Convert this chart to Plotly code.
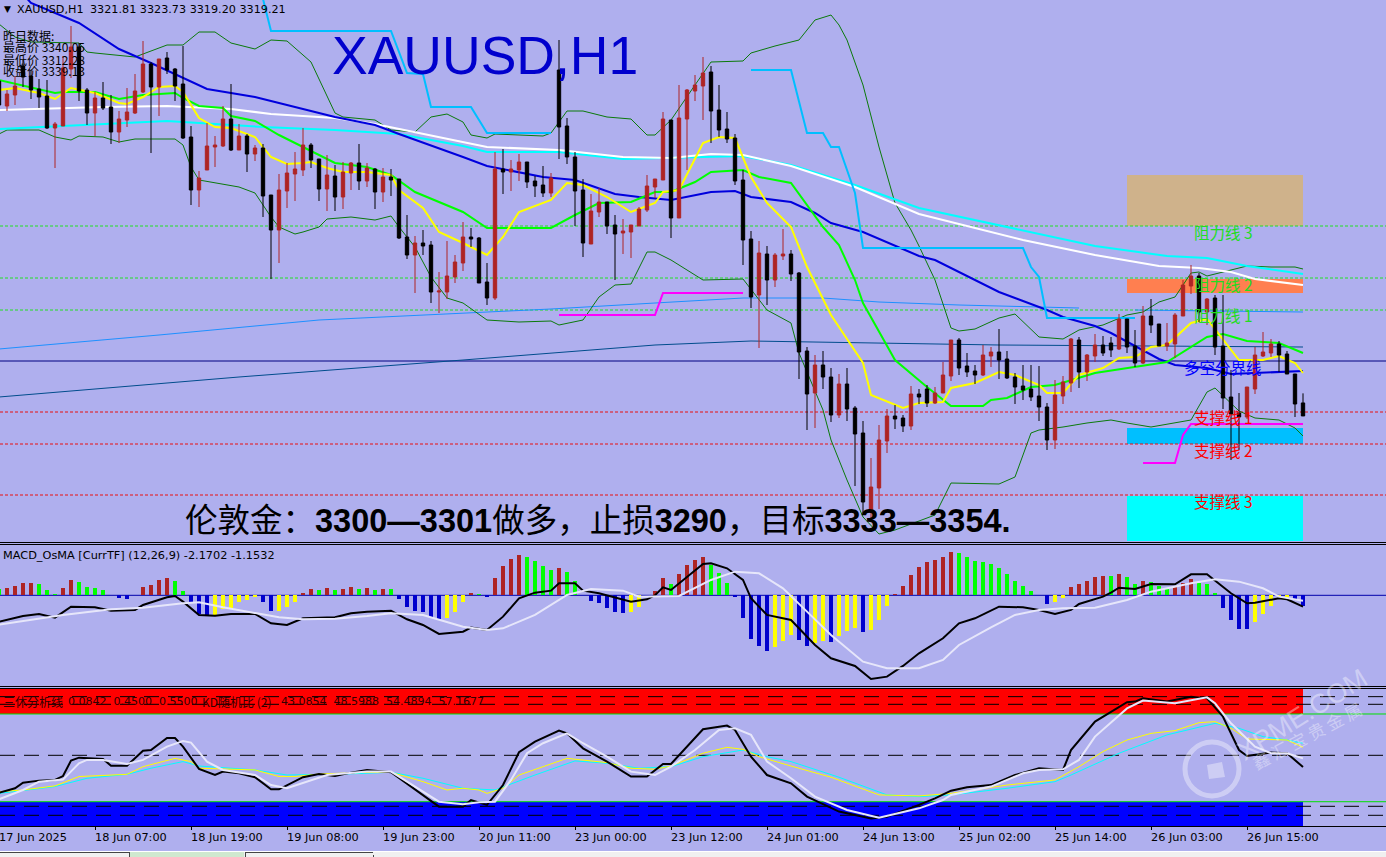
import plotly.graph_objects as go

# ---------- candles (bar 0 .. 163) ----------
candle_dir = ("DUUDDDDUUU" "DDUDDUUUUD" "UDDDDUUUUD" "UDUDDUUUUD" "DUDUUDUDUD" "DDUDDUUUUD"
              "DDUDUUDDDU" "DDDDUUDDUU" "UUUUDUUUUD" "DDDDDUDUUD" "DDUDDUDDDU" "UUDDUDDUUU"
              "DDDUUDDDDD" "DDUUUDUUDD" "UDDUDDUUUU" "DUDDDDUUUU" "DDDD")
body_top = [
3386.2,3383.6,3385.2,3389.2,3387.2,3384.6,3383.2,3377.6,3388.8,3393.0,
3393.0,3384.4,3382.8,3382.8,3381.0,3378.6,3380.0,3384.2,3389.6,3389.6,
3390.6,3390.8,3388.6,3385.6,3375.0,3366.8,3373.2,3373.4,3378.6,3378.6,
3375.2,3375.2,3372.8,3372.8,3363.4,3364.4,3367.8,3368.6,3373.4,3373.4,
3370.6,3367.4,3367.2,3368.0,3369.8,3369.8,3368.8,3368.6,3367.0,3367.0,
3366.6,3355.0,3353.8,3353.8,3353.4,3344.2,3347.2,3350.0,3355.0,3355.0,
3354.8,3346.0,3368.6,3368.6,3368.6,3370.0,3370.0,3366.2,3365.4,3366.8,
3388.4,3377.2,3371.0,3364.4,3360.2,3362.0,3362.0,3357.4,3356.2,3357.4,
3360.6,3365.2,3366.6,3378.6,3378.4,3378.8,3384.4,3385.4,3387.8,3388.0,
3380.4,3376.6,3374.8,3366.4,3354.6,3351.8,3351.6,3351.4,3351.6,3351.6,
3347.8,3332.2,3329.4,3329.4,3327.0,3325.6,3325.6,3320.8,3315.8,3305.0,
3314.4,3319.2,3319.2,3318.8,3323.6,3323.6,3324.6,3323.8,3327.4,3334.4,
3334.4,3329.2,3328.2,3331.4,3332.0,3332.0,3330.6,3327.0,3325.2,3324.6,
3323.2,3321.0,3323.4,3326.0,3334.6,3334.4,3331.4,3333.4,3333.4,3333.8,
3338.6,3338.6,3333.2,3339.2,3339.2,3337.6,3333.8,3339.4,3345.4,3347.2,
3347.2,3342.6,3342.8,3333.2,3323.0,3319.8,3325.0,3331.4,3332.0,3333.6,
3333.6,3331.6,3327.6,3321.81]
body_bot = [
3381.4,3381.2,3383.4,3387.0,3384.4,3383.0,3376.8,3376.8,3377.2,3388.6,
3384.2,3379.8,3379.8,3380.8,3376.0,3376.0,3378.4,3379.8,3384.0,3385.0,
3385.0,3388.4,3385.2,3374.8,3364.4,3364.4,3368.4,3373.0,3373.2,3372.4,
3372.4,3371.6,3371.6,3363.2,3356.4,3356.4,3364.2,3367.6,3368.4,3370.4,
3364.6,3364.6,3363.0,3363.0,3367.8,3366.2,3366.2,3364.0,3364.0,3366.4,
3354.8,3351.4,3351.4,3353.2,3344.0,3344.0,3344.0,3347.0,3349.8,3354.6,
3345.8,3342.8,3342.8,3368.0,3368.0,3368.4,3366.0,3365.2,3363.8,3363.8,
3377.0,3371.0,3364.2,3353.8,3353.6,3360.0,3357.2,3355.6,3355.8,3356.0,
3357.2,3360.4,3365.0,3366.4,3358.8,3358.8,3378.6,3384.2,3385.2,3380.2,
3376.4,3374.6,3366.2,3354.4,3343.0,3343.4,3346.4,3346.4,3351.2,3347.6,
3332.0,3323.6,3323.8,3327.0,3319.4,3319.4,3320.6,3315.6,3302.0,3300.0,
3304.8,3314.2,3318.6,3317.2,3317.2,3323.0,3321.8,3321.8,3323.8,3327.2,
3328.8,3328.0,3327.4,3327.4,3331.2,3330.4,3326.8,3325.0,3324.4,3323.0,
3321.0,3314.4,3314.4,3323.2,3325.8,3328.0,3328.0,3331.2,3331.8,3332.4,
3332.6,3333.0,3329.8,3329.8,3337.4,3333.2,3333.2,3333.6,3339.2,3345.2,
3340.0,3340.0,3333.0,3322.8,3319.6,3319.0,3319.0,3324.6,3331.2,3331.8,
3331.4,3327.6,3321.6,3319.21]
wick_high = [
3387.4,3384.4,3387.2,3390.4,3388.4,3386.6,3386.4,3378.0,3391.2,3397.2,
3393.8,3384.8,3384.0,3386.0,3383.4,3380.2,3384.8,3387.6,3394.2,3390.0,
3390.6,3392.0,3388.8,3393.2,3377.2,3368.2,3377.8,3375.2,3381.2,3385.6,
3377.6,3375.6,3373.4,3373.6,3363.4,3367.6,3369.8,3372.0,3376.8,3373.8,
3370.6,3371.4,3369.4,3370.0,3370.0,3373.6,3369.8,3368.8,3368.8,3368.6,
3366.6,3359.4,3355.2,3356.4,3354.2,3348.0,3354.2,3351.4,3358.0,3356.8,
3355.0,3349.8,3372.0,3372.6,3370.4,3371.6,3370.0,3367.2,3369.2,3367.8,
3394.4,3378.8,3372.0,3366.6,3363.6,3364.8,3362.0,3359.4,3358.6,3357.4,
3361.0,3367.4,3366.6,3380.0,3378.4,3385.4,3384.6,3387.4,3391.0,3389.2,
3385.4,3380.0,3375.6,3368.4,3356.2,3354.2,3353.2,3351.8,3356.6,3352.4,
3348.0,3333.0,3331.4,3332.2,3328.8,3327.6,3328.8,3321.2,3318.2,3310.8,
3317.4,3320.6,3321.4,3319.4,3325.2,3324.6,3325.4,3325.0,3330.0,3334.4,
3334.8,3331.8,3329.4,3333.4,3333.0,3336.6,3332.2,3327.8,3329.4,3329.4,
3329.2,3321.8,3326.4,3327.2,3334.8,3335.0,3331.6,3335.6,3335.2,3335.0,
3339.6,3338.6,3336.4,3341.2,3342.6,3337.6,3337.8,3339.8,3346.4,3349.4,
3347.8,3342.8,3343.4,3343.4,3328.4,3323.8,3325.0,3333.0,3336.0,3334.6,
3334.2,3332.2,3327.6,3323.73]
wick_low = [
3380.8,3380.2,3381.4,3385.0,3382.6,3380.8,3376.6,3368.8,3377.2,3386.8,
3382.2,3377.4,3375.2,3380.4,3373.6,3373.8,3377.0,3379.6,3383.8,3371.8,
3379.2,3387.6,3382.2,3374.6,3361.4,3361.0,3368.4,3369.0,3373.0,3372.2,
3372.4,3368.0,3370.2,3359.0,3346.6,3349.8,3360.8,3362.2,3367.2,3368.8,
3362.2,3360.2,3360.2,3360.6,3364.4,3364.4,3365.0,3360.6,3362.0,3363.2,
3354.6,3350.6,3343.8,3351.4,3341.8,3339.8,3342.6,3345.8,3348.2,3353.0,
3345.8,3341.4,3342.4,3363.6,3364.2,3366.2,3364.8,3363.0,3363.0,3363.0,
3370.6,3369.6,3357.2,3351.0,3353.6,3359.0,3355.6,3346.4,3351.6,3350.8,
3357.2,3360.0,3362.8,3366.4,3354.8,3358.8,3368.4,3382.2,3378.4,3373.8,
3375.0,3373.8,3365.4,3349.4,3340.8,3332.8,3341.4,3345.0,3350.4,3346.2,
3326.6,3316.4,3316.8,3324.6,3318.0,3318.8,3318.2,3305.2,3299.8,3298.4,
3300.6,3311.8,3316.6,3316.0,3316.4,3321.6,3321.0,3321.6,3323.8,3326.2,
3327.4,3327.0,3325.6,3327.2,3329.0,3326.6,3326.6,3321.6,3322.4,3322.2,
3318.2,3312.4,3312.6,3321.6,3324.0,3324.8,3326.2,3330.0,3331.2,3331.0,
3332.4,3331.8,3329.0,3329.6,3335.8,3333.2,3332.2,3330.8,3339.2,3343.6,
3338.0,3337.4,3331.4,3320.6,3310.4,3312.4,3318.6,3323.6,3331.0,3331.0,
3328.0,3327.6,3319.0,3319.20]

# ---------- main pane overlays: (bar, price) read at turning points ----------
ma_blue_bar = [3,4,10,15,19,26,32,42,47,50,58,61,68,72,77,80,84,89,92,94,99,102,104,108,115,117,125,131,133,137,139,145,147,151,154,158,163]
ma_blue_val = [3403.6,3401.8,3397.8,3392.6,3389.8,3384.6,3383.0,3379.0,3377.4,3375.6,3371.0,3369.2,3367.0,3366.4,3363.6,3363.0,3362.4,3364.0,3364.2,3363.0,3362.0,3359.8,3357.8,3356.0,3351.2,3350.4,3344.0,3340.4,3339.0,3337.2,3335.8,3330.6,3329.4,3328.8,3327.6,3327.8,3328.2]
ma_white_bar = [0,13,21,29,34,42,47,58,61,70,78,84,89,93,99,107,115,128,137,145,150,154,157,163]
ma_white_val = [3380.4,3381.0,3381.2,3380.6,3379.6,3378.8,3377.6,3374.0,3373.0,3372.4,3371.0,3370.8,3371.6,3371.4,3369.2,3365.0,3359.6,3354.4,3351.4,3349.2,3348.8,3348.0,3346.6,3345.4]
ma_cyan_bar = [0,8,21,33,42,50,58,61,70,78,86,93,99,107,115,129,137,146,151,156,163]
ma_cyan_val = [3376.6,3377.2,3378.2,3377.0,3376.4,3375.6,3373.2,3372.0,3372.0,3370.6,3371.0,3371.2,3369.4,3365.4,3360.8,3356.0,3353.2,3351.2,3350.8,3349.2,3347.6]
ma_green_bar = [0,4,7,8,12,15,18,22,23,25,28,29,32,35,38,42,46,49,52,58,61,69,72,75,79,82,84,87,89,93,95,99,103,105,107,108,112,116,119,123,124,126,129,132,137,141,146,151,153,156,160,163]
ma_green_val = [3386.4,3385.0,3383.8,3384.0,3384.0,3382.6,3383.4,3383.8,3382.8,3381.2,3380.8,3379.2,3378.2,3375.4,3373.0,3369.8,3369.0,3367.4,3364.0,3360.0,3356.8,3356.8,3359.4,3361.8,3362.0,3364.0,3364.0,3366.0,3368.0,3368.4,3367.0,3365.8,3357.0,3353.4,3346.4,3341.8,3330.4,3325.0,3321.2,3321.2,3322.4,3322.8,3325.0,3325.4,3327.8,3328.8,3330.0,3335.0,3335.6,3334.2,3333.8,3331.8]
ma_yellow_bar = [0,2,5,7,9,12,15,16,18,20,22,23,25,27,29,30,32,34,36,38,39,41,43,46,49,50,53,55,58,61,63,65,69,71,73,76,79,82,83,85,88,90,92,94,96,99,101,104,108,109,112,113,115,118,119,122,125,127,130,131,133,135,138,140,142,144,146,149,151,153,155,158,160,162,163]
ma_yellow_val = [3384.4,3384.8,3383.8,3382.6,3384.8,3383.8,3381.8,3381.6,3383.0,3385.0,3385.2,3384.0,3378.8,3377.0,3376.8,3376.2,3375.0,3371.0,3369.6,3369.8,3370.0,3368.8,3368.0,3368.0,3367.4,3364.4,3360.8,3356.0,3353.8,3351.4,3355.0,3360.0,3362.4,3365.8,3365.4,3363.0,3360.0,3361.8,3364.0,3364.4,3373.8,3375.0,3374.8,3367.0,3361.8,3357.0,3349.0,3339.4,3329.8,3323.4,3321.4,3320.8,3321.8,3322.0,3324.8,3325.8,3328.0,3327.4,3325.4,3323.8,3323.8,3327.4,3328.8,3330.8,3331.0,3333.0,3333.4,3337.8,3338.6,3334.4,3330.4,3330.4,3331.2,3329.8,3327.8]
bb_up_bar = [0,2,4,10,11,12,17,21,23,25,27,29,32,34,36,39,42,43,47,49,52,54,56,58,59,61,62,68,69,71,73,76,79,81,82,84,87,89,93,94,97,99,100,102,104,105,106,108,110,112,114,115,117,119,120,122,125,127,130,133,135,138,141,143,145,147,149,150,151,154,156,159,162,163]
bb_up_val = [3397.6,3395.0,3394.0,3393.8,3392.0,3391.8,3391.0,3393.4,3393.4,3396.0,3396.0,3393.8,3392.6,3394.4,3394.2,3390.0,3379.8,3379.0,3378.4,3376.4,3376.0,3379.0,3379.6,3378.0,3375.4,3374.8,3375.6,3375.2,3375.8,3380.2,3380.2,3379.0,3378.6,3375.4,3375.4,3378.4,3385.4,3390.0,3390.2,3391.8,3393.2,3394.0,3394.4,3398.4,3399.4,3397.4,3394.4,3385.4,3373.0,3361.8,3356.4,3353.2,3346.4,3336.8,3336.2,3336.6,3338.8,3339.6,3335.0,3334.6,3336.4,3337.4,3339.4,3340.0,3342.0,3343.0,3347.8,3348.0,3347.2,3348.4,3349.2,3349.0,3349.0,3348.6]
bb_lo_bar = [0,1,5,7,9,10,13,15,17,22,23,24,25,27,30,32,34,35,37,38,40,41,44,47,49,50,52,54,56,58,61,65,69,70,73,75,77,79,81,82,84,88,93,96,99,100,103,104,105,106,108,110,112,117,119,125,127,128,129,130,133,136,139,141,144,149,151,152,155,157,160,162,163]
bb_lo_val = [3375.6,3376.4,3376.4,3375.0,3374.4,3375.2,3375.0,3374.0,3374.6,3374.6,3373.4,3369.0,3366.4,3365.8,3365.0,3363.8,3359.0,3357.0,3355.6,3356.0,3357.0,3358.6,3359.0,3358.4,3359.2,3357.0,3353.0,3347.0,3342.8,3341.8,3338.4,3338.0,3338.2,3337.4,3338.4,3343.0,3345.4,3345.6,3352.0,3352.0,3350.4,3346.4,3346.6,3340.4,3337.8,3331.8,3320.4,3314.4,3310.4,3306.4,3299.0,3295.6,3296.4,3299.4,3305.8,3305.6,3307.0,3311.4,3315.8,3316.4,3317.0,3317.8,3318.4,3317.8,3317.0,3318.4,3324.0,3324.8,3320.2,3318.8,3318.4,3316.8,3315.2]
step_sky_bar = [24,33,34,49,51,53,54,59,61,69,None,94,99,101,103,104,105,107,108,128,129,130,131,142]
step_sky_val = [3402.6,3402.6,3396.2,3396.2,3387.8,3387.6,3381.0,3381.0,3375.8,3375.8,None,3388.4,3388.4,3375.8,3375.8,3373.0,3373.0,3363.8,3352.8,3352.8,3349.0,3347.0,3338.8,3338.8]
step_pink_bar = [70,82,83,93,None,143,147,148,149,163]
step_pink_val = [3339.4,3339.4,3343.8,3343.8,None,3309.8,3309.8,3315.4,3317.6,3317.6]
thin_blue_bar = [0,20,40,58,69,82,93,103,110,120,135,None,142,160,163]
thin_blue_val = [3332.6,3335.4,3338.4,3339.8,3340.6,3341.8,3342.8,3342.8,3342.0,3341.4,3340.8,None,3340.4,3340.0,3340.0]
thin_navy_bar = [0,30,58,82,94,110,125,163]
thin_navy_val = [3323.0,3327.0,3330.4,3333.4,3334.2,3333.8,3333.4,3333.0]

green_levels = [3357.2, 3346.8, 3340.4]
navy_level = 3330.2
red_levels = [3320.0, 3313.6, 3303.4]
zone_bars = [141, 163]
zones = [(3367.4, 3357.2, "#CFB28B"), (3346.6, 3343.8, "#FF7F50"), (3316.8, 3313.6, "#00BFFF"), (3303.2, 3294.2, "#00FFFF")]
level_labels = [("阻力线 3", 3356.0, "#22DD22"), ("阻力线 2", 3345.6, "#22DD22"), ("阻力线 1", 3339.4, "#22DD22"),
                ("多空分界线", 3329.0, "#0000FF"), ("支撑线 1", 3319.0, "#FF0000"), ("支撑线 2", 3312.4, "#FF0000"), ("支撑线 3", 3302.2, "#FF0000")]

# ---------- MACD pane ----------
hist_kind = ("g rrrr ggg rr gggg g bb r rrrr gg bbb yyyyyy bb yyy rr g r g rr g r g r g bbbbbb yyy r g b rrrr gggg r gg g "
             "bbbbb yy r rr g rrrr ggg bbbbb yyy bb yy b yyy b yyy rrrrrrrr gggggggggg g b yy rrrrr g r gg r ggg rrr ggg "
             "bbbb yyyyy bb").replace(" ", "")
hist_val = [
1.2,1.4,1.87,2.47,2.47,2.27,1.07,0.27,1.4,3.07,2.67,1.67,1.4,1.0,0,-0.47,-0.73,0,1.67,2.07,
3.07,3.47,2.87,0.87,-1.6,-3.73,-4.0,-4.0,-2.8,-2.6,-1.33,-0.93,-0.27,-1.33,-3.2,-3.2,-2.4,-1.33,0.47,1.27,
1.07,1.47,1.07,1.27,1.67,1.27,1.47,1.07,1.27,1.27,-0.73,-2.4,-3.2,-3.4,-4.4,-4.8,-4.53,-3.33,-1.33,0.47,
0.27,-0.27,3.47,5.87,7.27,8.07,7.67,6.87,5.87,5.07,5.47,4.67,2.87,0,-1.13,-1.53,-2.53,-3.33,-3.53,-3.33,
-2.33,0,0.87,3.47,2.27,4.27,6.07,7.07,7.67,6.07,4.47,2.47,-0.27,-4.53,-8.73,-10.13,-11.13,-10.33,-9.13,-7.93,
-8.93,-10.13,-9.53,-9.13,-9.33,-8.13,-7.13,-6.53,-7.33,-6.93,-4.93,-2.13,0.27,1.87,4.07,5.67,6.67,7.07,7.67,8.67,
8.47,7.67,6.87,6.67,6.27,5.47,4.27,2.87,1.87,0.87,0,-1.73,-1.33,-0.53,1.67,2.27,2.87,3.67,3.87,3.87,
4.27,3.67,2.27,2.87,2.67,1.87,1.4,1.87,2.47,3.27,2.47,2.27,0.47,-2.53,-4.93,-6.73,-6.73,-5.33,-3.73,-2.13,
-0.4,-0.53,-0.93,-2.13]
macd_bar = [0,3,5,7,9,12,14,17,18,21,22,23,25,27,29,32,34,36,38,42,44,46,49,51,53,55,58,59,61,63,65,67,69,70,72,73,75,79,81,82,83,84,88,89,91,93,94,96,99,102,104,107,109,111,113,115,118,120,122,125,128,130,132,134,135,138,139,140,142,144,147,149,151,154,156,157,160,161,163]
macd_val = [-5.27,-4.13,-3.73,-4.47,-2.27,-2.4,-3.07,-2.93,-1.93,-0.4,-0.13,-1.27,-3.93,-4.07,-3.73,-3.73,-5.6,-5.93,-4.6,-4.4,-3.6,-3.27,-3.07,-4.8,-5.93,-7.73,-7.27,-6.47,-6.93,-4.27,-0.6,0.53,0.93,2.4,2.4,0.93,0.4,-1.27,-0.8,0,1.6,1.07,6.27,6.4,5.4,3.07,-0.6,-3.93,-4.93,-9.93,-12.6,-14.13,-16.73,-16.27,-14.13,-11.6,-8.6,-5.6,-4.6,-2.27,-2.4,-2.93,-3.73,-2.93,-1.73,-0.27,0.53,1.53,1.27,2.27,2.2,4.2,4.2,0.4,-1.6,-1.47,-0.6,-0.8,-2.27]
signal_bar = [0,4,8,14,18,23,25,28,32,35,38,42,46,49,53,58,61,63,67,71,74,78,80,85,89,92,95,98,101,104,108,111,115,118,120,124,127,130,133,137,141,144,149,152,155,158,160,163]
signal_val = [-5.87,-4.93,-3.93,-2.8,-2.47,-1.6,-1.4,-2.4,-3.47,-4.4,-4.8,-4.67,-4.13,-3.6,-3.93,-6.27,-6.93,-6.6,-3.93,0.07,1.27,0.93,-0.27,-0.13,3.07,4.73,4.4,1.4,-3.27,-7.93,-13.27,-14.6,-14.6,-12.93,-9.93,-6.4,-3.93,-2.93,-2.6,-2.47,-0.93,0.73,2.4,3.2,2.73,1.4,-0.27,-1.07]

# ---------- stochastic pane ----------
stoch_k_bar = [0,2,3,5,7,8,9,10,13,14,16,18,19,21,22,23,25,27,28,30,32,34,35,38,40,42,44,46,49,51,53,55,58,59,61,63,65,67,70,71,73,76,79,81,83,84,88,91,92,94,96,99,101,105,109,111,115,117,119,121,124,127,130,133,134,137,141,142,143,146,149,151,153,155,156,159,161,163]
stoch_k_val = [28.0,30.6,33.9,35.1,35.5,37.8,46.9,48.6,47.8,43.9,43.9,52.7,53.1,60.2,60.2,55.1,42.0,38.4,40.4,39.4,37.1,30.0,30.0,37.1,39.0,37.8,39.8,41.4,40.0,33.1,26.7,19.8,19.8,23.7,20.8,32.5,51.8,58.0,64.5,62.9,54.1,46.3,37.5,37.5,44.9,44.9,65.3,67.5,64.9,49.2,38.4,33.5,25.7,16.9,12.9,13.9,20.8,24.7,29.2,31.2,32.5,38.4,42.4,41.4,53.1,69.8,81.2,81.6,83.5,81.6,84.5,83.5,72.7,53.1,49.6,51.6,51.2,43.1]
stoch_d_bar = [0,3,5,8,10,11,13,16,18,21,23,24,26,28,32,34,36,38,41,46,49,52,55,58,60,62,64,66,68,71,73,76,79,82,84,87,90,92,94,96,99,102,104,106,110,115,118,119,124,128,130,133,135,137,141,143,147,151,152,154,157,159,161,163]
stoch_d_val = [24.1,29.6,34.5,35.7,45.3,47.3,47.3,44.9,47.3,55.1,58.4,57.5,46.3,41.4,38.4,32.5,30.6,33.9,38.4,40.4,40.4,31.6,22.7,21.2,22.4,22.7,35.5,51.2,57.1,62.9,57.1,49.2,40.4,38.4,43.3,53.1,64.9,65.9,62.0,46.3,36.5,25.7,21.8,17.8,13.3,18.8,23.7,26.7,31.6,39.4,41.4,41.8,47.3,61.0,77.6,82.2,80.6,84.1,80.6,68.8,55.1,51.2,51.2,48.2]
stoch_y_bar = [0,3,7,10,16,18,22,24,25,32,35,37,40,46,49,53,56,58,60,61,63,65,68,71,76,79,82,84,88,91,93,95,99,104,110,115,119,126,132,135,138,141,144,147,150,152,154,156,161,163]
stoch_y_val = [28.6,29.6,32.0,37.5,38.8,43.3,48.2,46.3,42.4,41.4,37.5,37.5,39.0,40.0,40.0,34.5,29.6,30.6,29.6,27.6,30.6,38.4,43.3,48.2,45.7,42.4,41.8,43.7,51.2,54.7,53.5,49.2,43.7,37.1,26.7,26.1,27.6,32.5,35.5,43.3,52.2,59.0,62.9,64.5,69.2,69.8,65.9,59.6,59.0,54.7]
stoch_c_bar = [0,7,11,16,19,23,25,32,36,42,49,53,58,62,67,72,76,80,84,88,93,96,99,105,111,115,119,126,132,134,140,146,152,155,158,161,163]
stoch_c_val = [27.6,31.6,36.5,38.8,42.4,46.3,43.7,41.4,38.4,38.8,40.0,36.5,30.6,29.6,38.4,46.7,45.3,42.4,43.3,49.2,53.1,49.2,46.3,37.1,26.7,25.7,26.7,30.6,34.5,38.4,51.2,62.0,68.8,65.9,61.0,59.0,57.1]
stoch_dash = [84.5, 80, 50, 20, 14.7]
stoch_green = [74.3, 22.7]
red_band = (89, 74.3)
blue_band = (22.7, 8.41)

tick_bars = [0,12,24,36,48,60,72,84,96,108,120,132,144,156]
tick_text = ["17 Jun 2025","18 Jun 07:00","18 Jun 19:00","19 Jun 08:00","19 Jun 23:00","20 Jun 11:00","23 Jun 00:00",
             "23 Jun 12:00","24 Jun 01:00","24 Jun 13:00","25 Jun 02:00","25 Jun 14:00","26 Jun 03:00","26 Jun 15:00"]

# ---------- styling ----------
W, H = 1386, 857
BG = "#AFAFEE"
UI = "DejaVu Sans, Noto Sans CJK SC"
CJK = "Noto Sans CJK SC, DejaVu Sans"
X0, X1 = 0.125, 173.375
def py(y): return 1 - y / H
def px(x): return x / W

fig = go.Figure()
def line(xs, ys, color, width, axis="y"):
    fig.add_trace(go.Scatter(x=xs, y=ys, mode="lines", yaxis=axis, xaxis="x", connectgaps=False,
                             line=dict(color=color, width=width), hoverinfo="skip"))

line(thin_navy_bar, thin_navy_val, "#004C8C", 1)
line(thin_blue_bar, thin_blue_val, "#1E90FF", 1)
line(bb_up_bar, bb_up_val, "#0B7A0B", 1)
line(bb_lo_bar, bb_lo_val, "#0B7A0B", 1)
line(ma_cyan_bar, ma_cyan_val, "#00FFFF", 2)
line(ma_white_bar, ma_white_val, "#FFFFFF", 2)
line(ma_blue_bar, ma_blue_val, "#0000DD", 2)
line(step_sky_bar, step_sky_val, "#00BFFF", 2)
line(step_pink_bar, step_pink_val, "#FF00FF", 2)
line(ma_green_bar, ma_green_val, "#00FF00", 2)
line(ma_yellow_bar, ma_yellow_val, "#FFFF00", 2)

bars = list(range(len(body_top)))
opens = [b if d == "U" else t for t, b, d in zip(body_top, body_bot, candle_dir)]
closes = [t if d == "U" else b for t, b, d in zip(body_top, body_bot, candle_dir)]
fig.add_trace(go.Candlestick(x=bars, open=opens, high=wick_high, low=wick_low, close=closes, yaxis="y2", xaxis="x",
                             increasing=dict(line=dict(color="#AE2424", width=1), fillcolor="#AE2424"),
                             decreasing=dict(line=dict(color="#000000", width=1), fillcolor="#000000"),
                             hoverinfo="skip"))

kind_color = {"r": "#AE2424", "g": "#00FF00", "b": "#0000CD", "y": "#FFFF00"}
fig.add_trace(go.Bar(x=bars, y=hist_val, yaxis="y3", xaxis="x", width=0.62,
                     marker=dict(color=[kind_color[k] for k in hist_kind], line=dict(width=0)), hoverinfo="skip"))
line(macd_bar, macd_val, "#000000", 2, "y3")
line(signal_bar, signal_val, "#E6E6FA", 2, "y3")

line(stoch_c_bar, stoch_c_val, "#00FFFF", 1, "y4")
line(stoch_y_bar, stoch_y_val, "#FFFF00", 1, "y4")
line(stoch_k_bar, stoch_k_val, "#000000", 2, "y4")
line(stoch_d_bar, stoch_d_val, "#E6E6FA", 2, "y4")

shapes = []
for lo_hi in zones:
    shapes.append(dict(type="rect", xref="x", yref="y", x0=zone_bars[0], x1=zone_bars[1], y0=lo_hi[0], y1=lo_hi[1],
                       fillcolor=lo_hi[2], line=dict(width=0), layer="below"))
def hline(yref, v, color, dash="solid", width=1):
    shapes.append(dict(type="line", xref="x", x0=X0, x1=X1, yref=yref, y0=v, y1=v,
                       line=dict(color=color, width=width, dash=dash), layer="below"))
for v in green_levels: hline("y", v, "#22E022", "3px,2px")
for v in red_levels: hline("y", v, "#E81010", "3px,2px")
hline("y", navy_level, "#000080")
hline("y3", 0, "#0000AA")
shapes.append(dict(type="rect", xref="x", yref="y4", x0=X0, x1=163, y0=red_band[1], y1=red_band[0], fillcolor="#FF0000", line=dict(width=0), layer="below"))
shapes.append(dict(type="rect", xref="x", yref="y4", x0=X0, x1=163, y0=blue_band[1], y1=blue_band[0], fillcolor="#0000FF", line=dict(width=0), layer="below"))
for v in stoch_green: hline("y4", v, "#00E000")
for v in stoch_dash: hline("y4", v, "#000000", "15px,9px")

# pane separators, status bar
for y in (542.5, 544.5, 686.5, 688.5):
    shapes.append(dict(type="line", xref="paper", yref="paper", x0=0, x1=1, y0=py(y), y1=py(y), line=dict(color="#000000", width=1)))
def prect(x0, y0, x1, y1, color):
    shapes.append(dict(type="rect", xref="paper", yref="paper", x0=px(x0), x1=px(x1), y0=py(y1), y1=py(y0), fillcolor=color, line=dict(width=0)))
prect(0, 851, 1386, 857, "#F0F0F0")
prect(130, 852, 244, 857, "#CFE8CF")
prect(0, 851, 1386, 852, "#FFFFFF")
for a, b, y0 in ((0, 129, 852.5), (245, 373, 852.5)):
    shapes.append(dict(type="line", xref="paper", yref="paper", x0=px(a), x1=px(b), y0=py(y0), y1=py(y0), line=dict(color="#444444", width=1)))
for a, y0 in ((129.5, 852), (245.5, 852), (373.5, 855)):
    shapes.append(dict(type="line", xref="paper", yref="paper", x0=px(a), x1=px(a), y0=py(y0), y1=0, line=dict(color="#444444", width=1)))

# watermark logo
WM = "rgba(255,255,255,0.38)"
shapes.append(dict(type="circle", xref="paper", yref="paper", x0=px(1185), x1=px(1239), y0=py(796), y1=py(742),
                   line=dict(color=WM, width=5), fillcolor="rgba(0,0,0,0)"))
shapes.append(dict(type="path", xref="paper", yref="paper", line=dict(width=0), fillcolor=WM,
                   path="M %f %f L %f %f L %f %f L %f %f Z" % (px(1207), py(765), px(1222), py(762), px(1225), py(777), px(1209), py(779))))

ann = []
def text(x, y, s, size, color="#000000", family=UI, anchor="left", angle=0):
    ann.append(dict(text=s, xref="paper", yref="paper", x=px(x - 2 if anchor == "left" else x), y=py(y), xanchor=anchor, yanchor="middle",
                    showarrow=False, textangle=angle, font=dict(family=family, size=size, color=color)))
NB = "\u00a0"
COLON, COMMA = "\uff1a", "\uff0c"
text(4, 9, "▼", 9)
text(17, 9, "XAUUSD,H1", 11.2)
text(90, 9, "3321.81" + NB + "3323.73" + NB + "3319.20" + NB + "3319.21", 11.2)
text(332, 56, "XAUUSD,H1", 53.5, "#0000CD", "Liberation Sans")
for yy, s in ((35, "昨日数据:"), (47, "最高价 3340.05"), (59, "最低价 3312.28"), (71, "收盘价 3339.13")):
    text(3, yy, s, 12, "#000000", CJK)
text(185, 521, "伦敦金" + COLON + "<b>3300—3301</b>做多" + COMMA + "止损<b>3290</b>" + COMMA + "目标<b>3333—3354.</b>", 32.5, "#000000", "Liberation Sans, Noto Sans CJK SC")
for s, v, c in level_labels:
    ann.append(dict(text=s, xref="x", yref="y", x=(1223 + 1) / 8, y=v, xanchor="center", yanchor="middle",
                    showarrow=False, font=dict(family=CJK, size=15.5, color=c)))
text(3, 555, "MACD_OsMA [CurrTF] (12,26,9) -2.1702 -1.1532", 11.3)
text(3, 701, "三休分析线", 12, "#300000", CJK)
text(68, 701, "0.0842" + NB + NB + "0.4500" + NB + NB + "0.5500", 11, "#300000")
text(202, 701, "KD随机比 (2)", 12, "#300000", CJK)
text(281, 701, "43.0854" + NB + NB + "48.5988" + NB + NB + "54.4894" + NB + NB + "57.1677", 11, "#300000")
for b, s in zip(tick_bars, tick_text):
    text(8 * b - 1, 837, s, 11.3)
text(1302, 715, "XPME.COM", 27, WM, "Liberation Sans", "center", -32)
text(1306, 735, "鑫 汇 宝 贵 金 属", 17, WM, CJK, "center", -28)

hidden = dict(showgrid=False, zeroline=False, showticklabels=False, ticks="", showline=False, fixedrange=True)
main_range = [3402.4 - 541 / 5, 3402.4]
fig.update_layout(
    width=W, height=H, autosize=False, margin=dict(l=0, r=0, t=0, b=0, pad=0),
    paper_bgcolor=BG, plot_bgcolor=BG, showlegend=False, bargap=0, boxgap=0.4, boxmode="overlay",
    shapes=shapes, annotations=ann, hovermode=False,
    xaxis=dict(domain=[0, 1], range=[X0, X1], anchor="y4", showgrid=False, zeroline=False, showline=True, linecolor="#000000",
               linewidth=1, ticks="outside", ticklen=3, tickcolor="#000000", tickvals=tick_bars[1:], showticklabels=False,
               rangeslider=dict(visible=False), fixedrange=True),
    yaxis=dict(domain=[py(541), 1], range=main_range, **hidden),
    yaxis2=dict(overlaying="y", range=main_range, **hidden),
    yaxis3=dict(domain=[py(686), py(545)], range=[-18.14, 10.06], **hidden),
    yaxis4=dict(domain=[py(826), py(689)], range=[8.41, 89], **hidden),
)
fig.write_html("out.html", config=dict(displayModeBar=False, staticPlot=True),
               post_script="document.body.style.margin='0';document.body.style.overflow='hidden';")
